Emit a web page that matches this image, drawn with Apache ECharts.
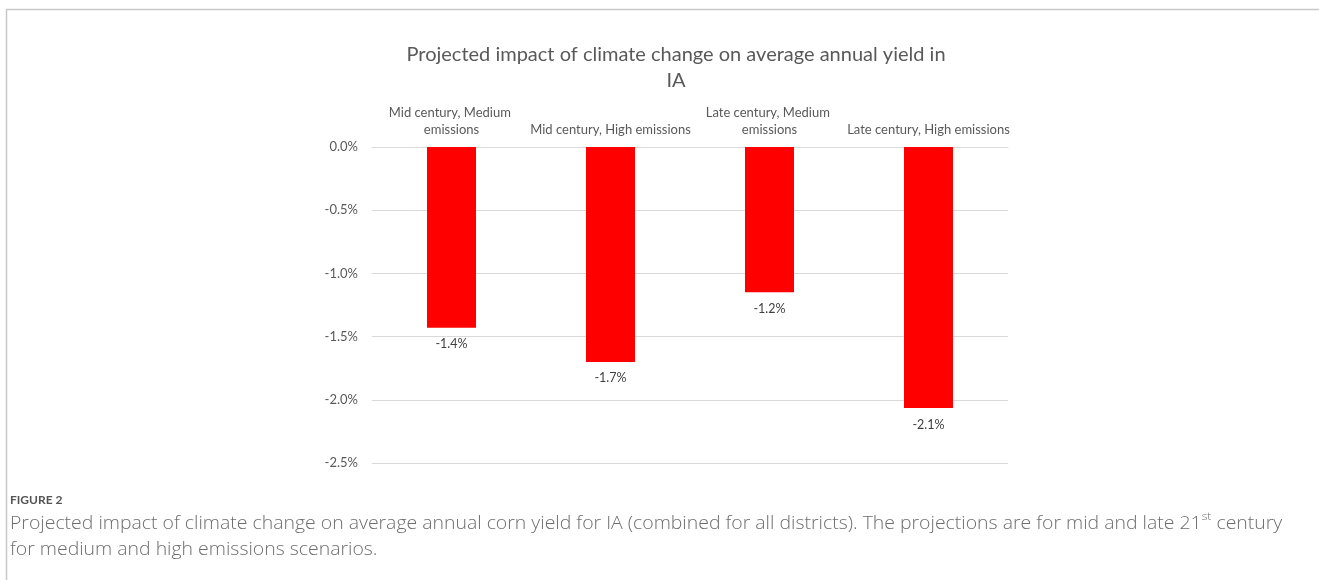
<!DOCTYPE html>
<html>
<head>
<meta charset="utf-8">
<script src="https://cdn.jsdelivr.net/npm/echarts@6/dist/echarts.min.js"></script>
<style>
html,body{margin:0;padding:0;background:#fff;}
#chart{width:1319px;height:580px;}
</style>
</head>
<body>
<div id="chart"></div>
<script>
const categories = ['Mid century, Medium emissions', 'Mid century, High emissions', 'Late century, Medium emissions', 'Late century, High emissions'];
const values = [-1.43, -1.70, -1.15, -2.065];
const labels = ['-1.4%', '-1.7%', '-1.2%', '-2.1%'];
const titleText = 'Projected impact of climate change on average annual yield in\nIA';
const figLabel = 'FIGURE 2';

const chart = echarts.init(document.getElementById('chart'));
const font = 'Lato';
chart.setOption({
  animation: false,
  textStyle: {fontFamily: font},
  title: {
    text: titleText,
    left: 671, top: 37, textAlign: 'center',
    textStyle: {fontFamily: font, fontSize: 20, fontWeight: 'normal', color: '#595959', lineHeight: 26}
  },
  grid: {left: 372, right: 311, top: 147, bottom: 117, containLabel: false},
  xAxis: {
    type: 'category', position: 'top', data: categories,
    axisLine: {show: true, lineStyle: {color: '#d9d9d9'}},
    axisTick: {show: false},
    axisLabel: {interval: 0, color: '#595959', fontSize: 13, margin: 9, width: 166, overflow: 'break', lineHeight: 17, fontFamily: font}
  },
  yAxis: {
    type: 'value', min: -2.5, max: 0, interval: 0.5,
    axisLine: {show: false}, axisTick: {show: false},
    splitLine: {lineStyle: {color: '#d9d9d9'}},
    axisLabel: {color: '#595959', fontSize: 13, margin: 14, fontFamily: font, formatter: v => v.toFixed(1) + '%'}
  },
  series: [{
    type: 'bar', data: values, barWidth: 49,
    itemStyle: {color: '#ff0000'},
    label: {show: true, position: 'bottom', distance: 10, color: '#404040', fontSize: 12.5, fontFamily: font,
      formatter: p => labels[p.dataIndex]}
  }],
  graphic: [
    {type: 'polyline', shape: {points: [[6.5, 580], [6.5, 9.5], [1319, 9.5]]}, style: {stroke: '#c8c8c8', lineWidth: 1.5, fill: null}},
    {type: 'text', left: 10, top: 494, style: {text: figLabel, font: 'bold 12px Lato', fill: '#555'}},
    {type: 'text', left: 10, top: 511, scaleX: 1.11, style: {
      text: '{a|Projected impact of climate change on average annual corn yield for IA (combined for all districts). The projections are for mid and late 21}{s|st}{a| century}\n{a|for medium and high emissions scenarios.}',
      rich: {
        a: {fontFamily: 'Open Sans', fontWeight: 300, fontSize: 17.5, fill: '#6e6e6e', lineHeight: 26},
        s: {fontFamily: 'Open Sans', fontWeight: 300, fontSize: 11, fill: '#6e6e6e', lineHeight: 13, verticalAlign: 'top'}
      }
    }}
  ]
});
</script>
</body>
</html>
